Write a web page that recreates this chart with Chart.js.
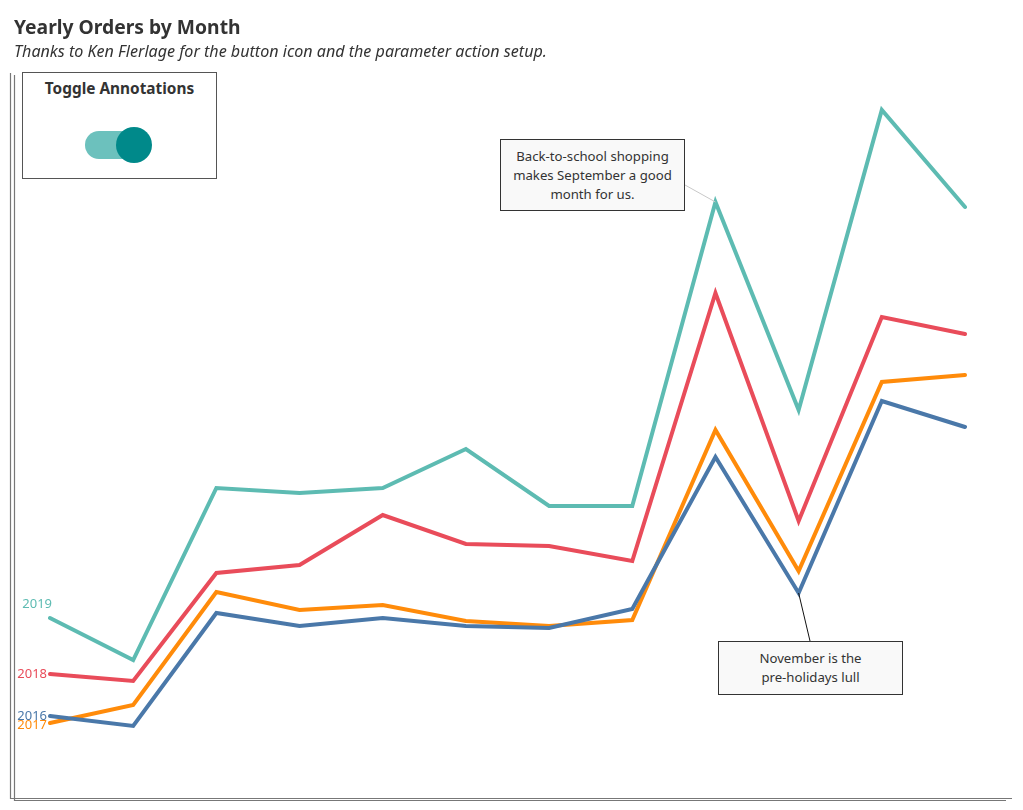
<!DOCTYPE html>
<html>
<head>
<meta charset="utf-8">
<script src="https://cdn.jsdelivr.net/npm/chart.js@4"></script>
<style>
	body { margin: 0; background: #fff; font-family: "Noto Sans", "Open Sans", sans-serif; }
	#wrap { position: relative; width: 1023px; height: 810px; overflow: hidden; }
	#cnvs { position: absolute; left: 0; top: 0; }
	.title { position: absolute; left: 14px; top: 13px; font-size: 19.3px; font-weight: bold; color: #333; }
	.sub { position: absolute; left: 14px; top: 40px; font-size: 16.1px; font-style: italic; color: #333; }
	.toggle { position: absolute; left: 22px; top: 72px; width: 193px; height: 105px; border: 1px solid #555; background: #fff; }
	.toggle .lbl { text-align: center; margin-top: 5px; font-size: 15.4px; font-weight: bold; color: #333; }
	.pill { position: absolute; left: 62px; top: 58px; width: 60px; height: 28px; border-radius: 14px; background: #6cc1bd; }
	.knob { position: absolute; left: 93px; top: 54px; width: 36px; height: 36px; border-radius: 50%; background: #00898a; }
	.note { position: absolute; border: 1px solid #333; background: #f9f9f9; font-size: 13.2px; color: #333; text-align: center; line-height: 19px; box-sizing: border-box; }
</style>
</head>
<body>
<div id="wrap">
	<canvas id="cnvs" width="1023" height="810"></canvas>
	<div class="title">Yearly Orders by Month</div>
	<div class="sub">Thanks to Ken Flerlage for the button icon and the parameter action setup.</div>
	<div class="toggle">
		<div class="lbl">Toggle Annotations</div>
		<div class="pill"></div>
		<div class="knob"></div>
	</div>
	<div class="note" style="left:500px; top:139px; width:185px; height:72px; padding-top:7px;">Back-to-school shopping<br>makes September a good<br>month for us.</div>
	<div class="note" style="left:718px; top:641px; width:185px; height:54px; padding-top:7px;">November is the<br>pre-holidays lull</div>
</div>
<script>
var months = ['Jan', 'Feb', 'Mar', 'Apr', 'May', 'Jun', 'Jul', 'Aug', 'Sep', 'Oct', 'Nov', 'Dec'];
var years = ['2016', '2017', '2018', '2019'];
var orders2016 = [82, 72, 185, 172, 180, 172, 170, 189, 341, 205, 397, 371];
var orders2017 = [75, 93, 206, 188, 193, 177, 172, 178, 368, 227, 416, 423];
var orders2018 = [124, 117, 225, 233, 283, 254, 252, 237, 505, 277, 481, 464];
var orders2019 = [180, 138, 310, 305, 310, 349, 292, 292, 596, 388, 688, 591];
var colors = ['#4a78a9', '#ff8b0a', '#e94c5a', '#5dbbb2'];

// label offsets so 2016/2017 and 2019 sit like the original
var labelShiftY = [0, 2, 0, -14];
var labelShiftX = [-3, -3, -3, 2];

var frame = {
	id: 'frame',
	beforeDraw(chart) {
		var c = chart.ctx;
		c.save();
		c.strokeStyle = '#777';
		c.lineWidth = 1.2;
		c.beginPath();
		c.moveTo(10.5, 73); c.lineTo(10.5, 798.5); c.lineTo(1012, 798.5);
		c.moveTo(14.5, 75); c.lineTo(14.5, 800.5); c.lineTo(1006, 800.5);
		c.stroke();
		c.restore();
	},
	afterDatasetsDraw(chart) {
		var c = chart.ctx;
		c.save();
		c.font = '13px "Noto Sans", sans-serif';
		c.textAlign = 'right';
		c.textBaseline = 'middle';
		chart.data.datasets.forEach((ds, i) => {
			var p = chart.getDatasetMeta(i).data[0];
			c.fillStyle = ds.borderColor;
			c.fillText(ds.label, p.x + labelShiftX[i], p.y + labelShiftY[i]);
		});
		// annotation connectors
		var sep = chart.getDatasetMeta(3).data[8];
		c.strokeStyle = '#c8c8c8';
		c.lineWidth = 1;
		c.beginPath();
		c.moveTo(685, 185); c.lineTo(sep.x, sep.y);
		c.stroke();
		var low = chart.getDatasetMeta(0).data[9];
		c.strokeStyle = '#111';
		c.beginPath();
		c.moveTo(low.x, low.y); c.lineTo(810, 641);
		c.stroke();
		c.restore();
	}
};

var series = [orders2016, orders2017, orders2018, orders2019];
var datasets = series.map((d, i) => ({
	label: years[i],
	data: d,
	borderColor: colors[i],
	backgroundColor: colors[i],
	borderWidth: 4,
	pointRadius: 0,
	tension: 0,
	borderJoinStyle: 'miter',
	borderCapStyle: 'round'
}));

var chart = new Chart(document.getElementById('cnvs').getContext('2d'), {
	type: 'line',
	data: { labels: months, datasets: datasets },
	options: {
		responsive: false,
		animation: false,
		layout: { padding: { left: 50, right: 58, top: 80, bottom: 12 } },
		plugins: { legend: { display: false }, tooltip: { enabled: false } },
		scales: {
			x: { display: false, offset: false },
			y: { display: false, min: 0, max: 718 }
		}
	},
	plugins: [frame]
});
</script>
</body>
</html>
